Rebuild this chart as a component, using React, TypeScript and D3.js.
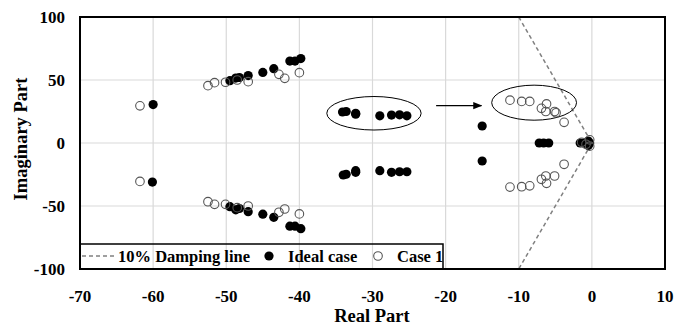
import React from "react";
import * as d3 from "d3";

// eigenvalues, [real, imaginary]
const idealCase: [number, number][] = [
  [-60, 30.5], [-49.5, 49.5], [-48.7, 51.5], [-48.2, 52], [-47, 53.5], [-45, 56], [-43.5, 59], [-41.3, 65], [-40.6, 65], [-39.8, 67],
  [-60.1, -31], [-49.5, -50.5], [-48.7, -53], [-48.2, -52], [-47, -54.5], [-45, -56.5], [-43.5, -59], [-41.3, -66], [-40.6, -66], [-39.8, -68],
  [-34.1, 24.6], [-33.6, 25], [-32.3, 22.8], [-32.3, 23.6], [-29, 21.6], [-27.4, 22.2], [-26.3, 22.4], [-25.3, 21.6],
  [-34, -25.4], [-33.6, -24.8], [-32.3, -23.3], [-32.3, -22], [-29, -22], [-27.4, -23.3], [-26.3, -22.8], [-25.3, -22.8],
  [-15, 13.5], [-15, -14.3], [-7.2, 0], [-6.6, 0], [-5.9, 0],
  [-1.6, 0], [-1.1, 0], [-0.5, 1.5], [-0.5, -2], [-0.3, 0],
];

const case1: [number, number][] = [
  [-61.8, 29.5], [-52.5, 45.5], [-51.6, 47.9], [-50.1, 48.2], [-48.5, 50], [-47, 48.7], [-42.8, 54.5], [-42, 51.3], [-40, 55.8],
  [-61.8, -30.5], [-52.5, -46.6], [-51.6, -48.7], [-50.1, -48.7], [-48.5, -51.3], [-47, -50], [-42.8, -55], [-42, -52.4], [-40, -56.3],
  [-11.2, 34], [-9.6, 33], [-8.5, 33], [-6.9, 27.5], [-6.2, 31], [-6.3, 25], [-5.1, 25], [-4.9, 24], [-3.8, 16.4],
  [-11.2, -35], [-9.6, -34.7], [-8.5, -34], [-6.9, -28.8], [-6.2, -32], [-6.3, -26.2], [-5.1, -26.2], [-3.8, -16.9],
  [-1.4, 0.5], [-0.8, -1], [-0.3, 2.5], [-0.3, -2.5],
];

// 10% damping line
const dampingLine: [number, number][] = [[-10, 100], [0, 0], [-10, -100]];

const xTicks = [-70, -60, -50, -40, -30, -20, -10, 0, 10];
const yTicks = [-100, -50, 0, 50, 100];

// annotations: [cx, cy, halfWidth, halfHeight] in data units
const ellipses: [number, number, number, number][] = [
  [-29.8, 23.6, 6.45, 13.3],
  [-7.9, 32, 5.8, 13.9],
];
const arrowFrom: [number, number] = [-21.3, 29.6];
const arrowTo: [number, number] = [-15.1, 29.6];

const font = "'Liberation Serif', 'Times New Roman', serif";

export default function App() {
  const width = 675;
  const height = 325;
  const m = { left: 80, right: 10, top: 17, bottom: 56 };

  const x = d3.scaleLinear().domain([-70, 10]).range([m.left, width - m.right]);
  const y = d3.scaleLinear().domain([-100, 100]).range([height - m.bottom, m.top]);

  const line = d3.line<[number, number]>().x(d => x(d[0])).y(d => y(d[1]));

  const legendY = 256;

  return (
    <div style={{ position: "absolute", left: 0, top: 0 }}>
      <svg width={width} height={height} style={{ display: "block", background: "#fff" }} fontFamily={font} fontWeight="bold">
        <defs>
          <marker id="arrowhead" viewBox="0 0 10 10" refX="9" refY="5" markerWidth="7" markerHeight="7" orient="auto">
            <path d="M0,1 L10,5 L0,9 z" fill="#000" />
          </marker>
        </defs>

        {/* gridlines */}
        {xTicks.map(t => (
          <line key={"gx" + t} x1={x(t)} x2={x(t)} y1={y(-100)} y2={y(100)} stroke="#d9d9d9" strokeWidth={1.2} />
        ))}
        {yTicks.map(t => (
          <line key={"gy" + t} x1={x(-70)} x2={x(10)} y1={y(t)} y2={y(t)} stroke="#d9d9d9" strokeWidth={1.2} />
        ))}

        {/* damping line */}
        <path d={line(dampingLine) || ""} fill="none" stroke="#808080" strokeWidth={1.5} strokeDasharray="4,3" />

        {/* annotations */}
        {ellipses.map((e, i) => (
          <ellipse key={"el" + i} cx={x(e[0])} cy={y(e[1])} rx={x(e[0] + e[2]) - x(e[0])} ry={y(e[1] - e[3]) - y(e[1])}
            fill="none" stroke="#000" strokeWidth={1} />
        ))}
        <line x1={x(arrowFrom[0])} y1={y(arrowFrom[1])} x2={x(arrowTo[0])} y2={y(arrowTo[1])}
          stroke="#000" strokeWidth={1.3} markerEnd="url(#arrowhead)" />

        {/* series */}
        {idealCase.map((d, i) => (
          <circle key={"i" + i} cx={x(d[0])} cy={y(d[1])} r={4.6} fill="#000" />
        ))}
        {case1.map((d, i) => (
          <circle key={"c" + i} cx={x(d[0])} cy={y(d[1])} r={4.3} fill="none" stroke="#555" strokeWidth={1.1} />
        ))}

        {/* plot frame */}
        <rect x={x(-70)} y={y(100)} width={x(10) - x(-70)} height={y(-100) - y(100)} fill="none" stroke="#000" strokeWidth={2} />

        {/* legend */}
        <rect x={x(-70)} y={244} width={443 - x(-70)} height={y(-100) - 244} fill="none" stroke="#000" strokeWidth={1.5} />
        <line x1={82} x2={115} y1={legendY} y2={legendY} stroke="#808080" strokeWidth={1.5} strokeDasharray="4,3" />
        <text x={118} y={legendY + 6} fontSize={16.5}>10% Damping line</text>
        <circle cx={269} cy={legendY} r={4.6} fill="#000" />
        <text x={288} y={legendY + 6} fontSize={16.5}>Ideal case</text>
        <circle cx={378} cy={legendY} r={4.3} fill="none" stroke="#555" strokeWidth={1.1} />
        <text x={397} y={legendY + 6} fontSize={16.5}>Case 1</text>

        {/* tick labels */}
        {xTicks.map(t => (
          <text key={"tx" + t} x={x(t)} y={302} textAnchor="middle" fontSize={17}>{t}</text>
        ))}
        {yTicks.map(t => (
          <text key={"ty" + t} x={65} y={y(t) + 6} textAnchor="end" fontSize={17}>{t}</text>
        ))}

        {/* axis titles */}
        <text x={372} y={322} textAnchor="middle" fontSize={18.5}>Real Part</text>
        <text transform={`translate(27,${y(0) - 4}) rotate(-90)`} textAnchor="middle" fontSize={18.5}>Imaginary Part</text>
      </svg>
    </div>
  );
}
